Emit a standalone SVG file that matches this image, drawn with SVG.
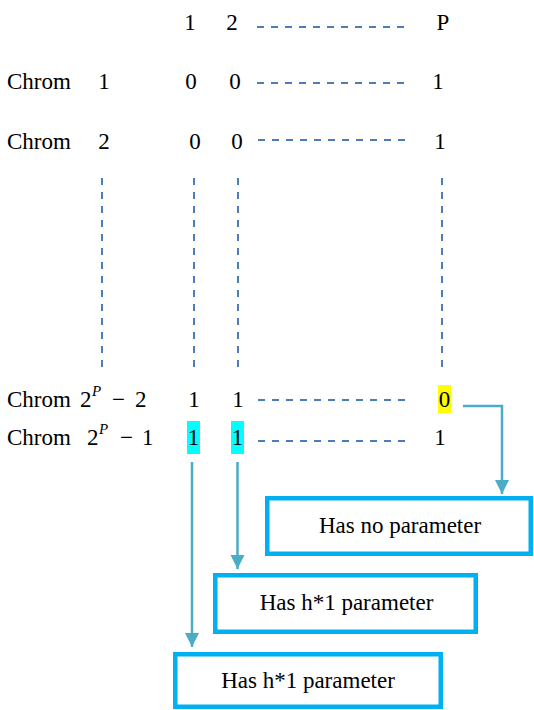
<svg xmlns="http://www.w3.org/2000/svg" width="534" height="710" viewBox="0 0 534 710">
  <style>
    text { font-family: 'Liberation Serif', 'Times New Roman', Times, 'DejaVu Serif', serif; font-size: 23px; fill: #000; }
    .c { text-anchor: middle; }
    .sup { font-size: 15px; font-style: italic; }
    .dash { stroke: #4a7ebb; stroke-width: 2; stroke-dasharray: 7 7; fill: none; }
    .conn { stroke: #4bacc6; stroke-width: 2.5; fill: none; marker-end: url(#head); }
    .box { fill: #fff; stroke: #00b0f0; stroke-width: 4.5; }
  </style>
  <defs>
    <marker id="head" markerUnits="userSpaceOnUse" markerWidth="15" markerHeight="15" refX="14" refY="7" orient="auto">
      <path d="M0,0 L14,7 L0,14 z" fill="#4bacc6"/>
    </marker>
  </defs>
  <rect width="534" height="710" fill="#fff"/>

  <!-- column header -->
  <g id="header">
    <text class="c" x="190" y="30">1</text>
    <text class="c" x="232" y="30">2</text>
    <text class="c" x="443" y="30">P</text>
  </g>

  <!-- chromosome rows -->
  <g id="row-chrom-1">
    <text x="7" y="89">Chrom</text>
    <text class="c" x="104" y="89">1</text>
    <text class="c" x="191" y="89">0</text>
    <text class="c" x="235" y="89">0</text>
    <text class="c" x="438" y="89">1</text>
  </g>
  <g id="row-chrom-2">
    <text x="7" y="149">Chrom</text>
    <text class="c" x="104" y="149">2</text>
    <text class="c" x="195" y="149">0</text>
    <text class="c" x="237" y="149">0</text>
    <text class="c" x="440" y="149">1</text>
  </g>
  <g id="row-chrom-2p-2">
    <rect x="438" y="385" width="13" height="28" fill="#ffff00"/>
    <text x="7" y="407">Chrom</text>
    <text x="80" y="407">2</text>
    <text class="sup" x="92" y="396">P</text>
    <text x="112" y="407">−</text>
    <text x="135" y="407">2</text>
    <text class="c" x="194" y="407">1</text>
    <text class="c" x="238" y="407">1</text>
    <text class="c" x="444.5" y="407">0</text>
  </g>
  <g id="row-chrom-2p-1">
    <rect x="187" y="421" width="13" height="33" fill="#00ffff"/>
    <rect x="231" y="421" width="13" height="33" fill="#00ffff"/>
    <text x="7" y="445">Chrom</text>
    <text x="87" y="445">2</text>
    <text class="sup" x="99" y="434">P</text>
    <text x="120" y="445">−</text>
    <text x="142" y="445">1</text>
    <text class="c" x="193.5" y="445">1</text>
    <text class="c" x="237.5" y="445">1</text>
    <text class="c" x="440" y="445">1</text>
  </g>

  <!-- ellipsis lines -->
  <g id="ellipsis">
    <path class="dash" d="M257,27 H405"/>
    <path class="dash" d="M257,83 H405"/>
    <path class="dash" d="M258,140 H406"/>
    <path class="dash" d="M258,400 H406"/>
    <path class="dash" d="M258,441 H406"/>
    <path class="dash" d="M102,178 V368"/>
    <path class="dash" d="M194,178 V368"/>
    <path class="dash" d="M238,178 V368"/>
    <path class="dash" d="M442,178 V368"/>
  </g>

  <!-- result boxes -->
  <g id="box-no-parameter">
    <rect class="box" x="267.25" y="498.25" width="263.5" height="55.5"/>
    <text class="c" x="400" y="533">Has no parameter</text>
  </g>
  <g id="box-h1-parameter-a">
    <rect class="box" x="215.25" y="575.25" width="260.5" height="56.5"/>
    <text class="c" x="346.5" y="610">Has h*1 parameter</text>
  </g>
  <g id="box-h1-parameter-b">
    <rect class="box" x="175.25" y="654.25" width="265.5" height="52.5"/>
    <text class="c" x="308" y="688">Has h*1 parameter</text>
  </g>

  <!-- connectors -->
  <g id="connectors">
    <path class="conn" d="M463,406 H502 V494"/>
    <path class="conn" d="M192,462 V647"/>
    <path class="conn" d="M237.5,462 V569"/>
  </g>
</svg>
